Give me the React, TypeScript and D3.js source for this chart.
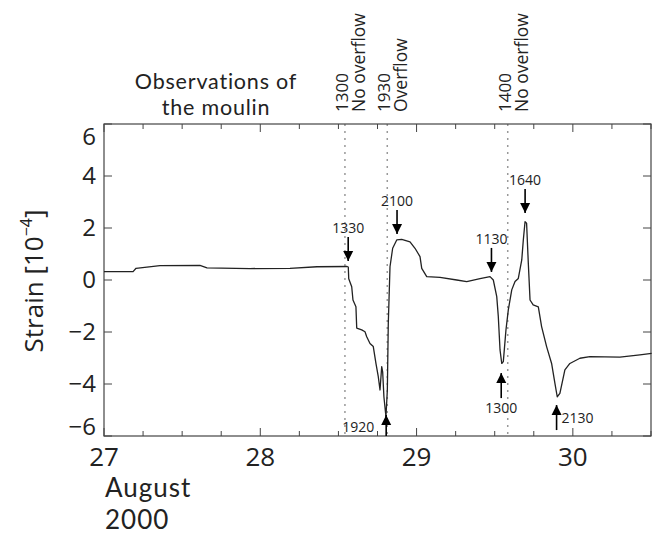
import React from "react";
import * as d3 from "d3";

// ---- data (day of August 2000, strain in 1e-4) ----
const days = [
  27.0, 27.186, 27.205, 27.358, 27.614, 27.659, 27.934, 28.19, 28.363, 28.555, 28.563, 28.566,
  28.585, 28.593, 28.612, 28.617, 28.649, 28.67, 28.681, 28.702, 28.723, 28.74, 28.755, 28.766,
  28.777, 28.783, 28.791, 28.804, 28.813, 28.819, 28.83, 28.847, 28.873, 28.905, 28.958, 28.99,
  29.022, 29.033, 29.065, 29.15, 29.257, 29.321, 29.406, 29.47, 29.491, 29.513, 29.523, 29.534,
  29.545, 29.555, 29.572, 29.587, 29.609, 29.63, 29.651, 29.673, 29.683, 29.694, 29.704, 29.715,
  29.726, 29.746, 29.779, 29.8, 29.832, 29.864, 29.885, 29.9, 29.917, 29.949, 29.981, 30.045,
  30.109, 30.301, 30.429, 30.504,
];
const strain = [
  0.32, 0.32, 0.45, 0.55, 0.56, 0.47, 0.44, 0.45, 0.51, 0.52, 0.5, 0.05,
  -0.26, -0.77, -1.03, -1.85, -1.92, -1.99, -2.18, -2.44, -2.56, -3.21, -3.72, -4.23,
  -3.33, -3.53, -4.49, -5.26, -4.23, -1.67, 0.51, 1.22, 1.54, 1.56, 1.47, 1.22,
  0.9, 0.45, 0.13, 0.1, 0.0, -0.06, 0.05, 0.13, 0.0, -0.64, -1.41, -2.69,
  -3.21, -3.14, -1.92, -1.15, -0.38, -0.06, 0.06, 0.77, 1.54, 2.24, 2.18, 0.64,
  -0.77, -0.96, -1.03, -1.79, -2.56, -3.21, -3.97, -4.49, -4.36, -3.46, -3.21, -3.01,
  -2.95, -2.97, -2.88, -2.82,
];

const xTicks = [27, 28, 29, 30];
const yTicks = [-6, -4, -2, 0, 2, 4, 6];

// observation lines
const obsDays = [28 + 13 / 24, 28 + 19.5 / 24, 29 + 14 / 24];
const obsTimes = ["1300", "1930", "1400"];
const obsNotes = ["No overflow", "Overflow", "No overflow"];

// arrow annotations
const arrowDays = [28 + 13.5 / 24, 28 + 21 / 24, 29 + 11.5 / 24, 29 + 16 / 24 + 40 / 1440, 28 + 19 / 24 + 20 / 1440, 29 + 13 / 24, 29 + 21.5 / 24];
const arrowLabels = ["1330", "2100", "1130", "1640", "1920", "1300", "2130"];
const arrowDirs = ["down", "down", "down", "down", "up", "up", "up"];
const arrowTips = [0.73, 1.77, 0.31, 2.58, -5.19, -3.58, -4.81];

const W = 658;
const H = 535;
const M = { left: 104, right: 651, top: 124, bottom: 436 };
const FONT = "'Open Sans', 'DejaVu Sans', sans-serif";
const FONT2 = "Lato, 'Open Sans', sans-serif";

export default function App() {
  const x = d3.scaleLinear().domain([27, 30.5]).range([M.left, M.right]);
  const y = d3.scaleLinear().domain([-6, 6]).range([M.bottom, M.top]);
  const line = d3
    .line<number>()
    .x((_, i) => x(days[i]))
    .y((d) => y(d));
  const minor = d3.range(27, 30.5001, 0.25).filter((d) => Math.abs(d - Math.round(d)) > 1e-6);

  const tri = (cx: number, tipY: number, dir: string) => {
    const s = dir === "down" ? -1 : 1;
    return `M${cx},${tipY} L${cx - 5},${tipY + s * 10} L${cx + 5},${tipY + s * 10} Z`;
  };

  return (
    <svg
      width={W}
      height={H}
      style={{ position: "absolute", left: 0, top: 0, background: "#fff" }}
      fontFamily={FONT}
    >
      {/* observation dotted lines */}
      {obsDays.map((d, i) => (
        <line key={"o" + i} x1={x(d)} x2={x(d)} y1={M.top} y2={M.bottom} stroke="#999" strokeWidth={1.5} strokeDasharray="2,5" />
      ))}
      {/* frame */}
      <rect x={M.left} y={M.top} width={M.right - M.left} height={M.bottom - M.top} fill="none" stroke="#444" strokeWidth={1.2} />
      {/* x ticks */}
      {xTicks.map((t) => (
        <g key={"xt" + t}>
          <line x1={x(t)} x2={x(t)} y1={M.bottom} y2={M.bottom - 8} stroke="#444" />
          <line x1={x(t)} x2={x(t)} y1={M.top} y2={M.top + 8} stroke="#444" />
          <text x={x(t)} y={466} fontSize={26} textAnchor="middle" fill="#222">{t}</text>
        </g>
      ))}
      {minor.map((t) => (
        <g key={"xm" + t}>
          <line x1={x(t)} x2={x(t)} y1={M.bottom} y2={M.bottom - 5} stroke="#444" />
          <line x1={x(t)} x2={x(t)} y1={M.top} y2={M.top + 5} stroke="#444" />
        </g>
      ))}
      {/* y ticks */}
      {yTicks.map((t) => (
        <g key={"yt" + t}>
          <line x1={M.left} x2={M.left + 8} y1={y(t)} y2={y(t)} stroke="#444" />
          <line x1={M.right} x2={M.right - 8} y1={y(t)} y2={y(t)} stroke="#444" />
          <text
            x={96}
            y={y(t) + (t === 6 ? 13 : t === -6 ? -9 : 0)}
            dy="0.35em"
            fontSize={24}
            textAnchor="end"
            fill="#222"
          >
            {t < 0 ? "\u2212" + Math.abs(t) : String(t)}
          </text>
        </g>
      ))}
      {/* axis labels */}
      <text transform={`translate(43,${281}) rotate(-90)`} fontSize={26} textAnchor="middle" fill="#222">
        Strain [10<tspan fontSize={16} dy={-11}>{"\u22124"}</tspan><tspan dy={11}>]</tspan>
      </text>
      <text x={105} y={497} fontSize={26} fontFamily={FONT2} letterSpacing={1} fill="#222">August</text>
      <text x={105} y={529} fontSize={26} fontFamily={FONT2} letterSpacing={1} fill="#222">2000</text>
      {/* top text */}
      <text x={216} y={89} fontSize={21.5} fontFamily={FONT2} letterSpacing={0.8} textAnchor="middle" fill="#222">Observations of</text>
      <text x={216} y={115} fontSize={21.5} fontFamily={FONT2} letterSpacing={0.8} textAnchor="middle" fill="#222">the moulin</text>
      {obsDays.map((d, i) => (
        <g key={"ot" + i}>
          <text transform={`translate(${x(d) + 3},112) rotate(-90)`} fontSize={17} fill="#222">{obsTimes[i]}</text>
          <text transform={`translate(${x(d) + 20},112) rotate(-90)`} fontSize={17.5} fill="#222">{obsNotes[i]}</text>
        </g>
      ))}
      {/* data line */}
      <path d={line(strain) || ""} fill="none" stroke="#222" strokeWidth={1.3} strokeLinejoin="round" />
      {/* arrows */}
      {arrowDays.map((d, i) => {
        const cx = x(d);
        const tip = y(arrowTips[i]);
        const dir = arrowDirs[i];
        const tail = dir === "down" ? tip - 24 : Math.min(tip + 25, M.bottom);
        const lab = arrowLabels[i];
        let lx = cx, ly = dir === "down" ? tip - 28 : tip + 40, anchor = "middle";
        if (lab === "1920") { lx = cx - 12; ly = 432; anchor = "end"; }
        if (lab === "2130") { lx = cx + 5; ly = 423; anchor = "start"; }
        return (
          <g key={"a" + i}>
            <line x1={cx} x2={cx} y1={tip} y2={tail} stroke="#000" strokeWidth={1.6} />
            <path d={tri(cx, tip, dir)} fill="#000" />
            <text x={lx} y={ly} fontSize={14} textAnchor={anchor} fill="#222">{lab}</text>
          </g>
        );
      })}
    </svg>
  );
}
